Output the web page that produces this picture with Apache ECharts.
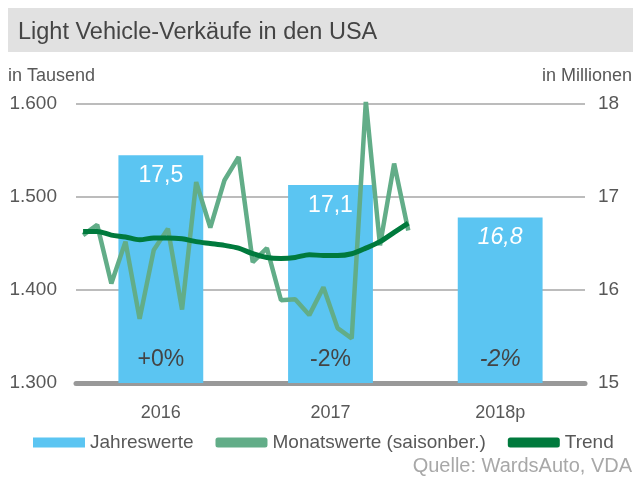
<!DOCTYPE html>
<html>
<head>
<meta charset="utf-8">
<script src="https://cdn.jsdelivr.net/npm/echarts@6/dist/echarts.min.js"></script>
<style>
  html, body { margin: 0; padding: 0; background: #fff; }
  #main { width: 635px; height: 480px; }
</style>
</head>
<body>
<div id="main"></div>
<script>
// Jahreswerte (Mio.), rechte Achse
var years = ['2016', '2017', '2018p'];
var yearValues = [17.45, 17.13, 16.78];
var yearLabels = ['17,5', '17,1', '16,8'];
var yearChange = ['+0%', '-2%', '-2%'];

// Monatswerte (Tsd.), Jan 2016 - Dez 2017, linke Achse
var months = [];
for (var y = 2016; y <= 2018; y++) {
  for (var m = 1; m <= 12; m++) months.push(y + '-' + m);
}
var monthly = [1459, 1470, 1407, 1452, 1369, 1443, 1466, 1379, 1516, 1467, 1518, 1543,
               1430, 1445, 1389, 1390, 1373, 1403, 1359, 1348, 1603, 1448, 1536, 1464];
var trend = [1463, 1463, 1459, 1457, 1454, 1456, 1456, 1455, 1452, 1450, 1448, 1445,
             1439, 1435, 1434, 1435, 1438, 1437, 1437, 1439, 1445, 1452, 1462, 1472];

var leftTicks = [1300, 1400, 1500, 1600];
var rightTicks = [15, 16, 17, 18];

var font = "'Liberation Sans', sans-serif";
var textGray = '#585858';

function deNum(v) {
  return String(v).replace(/\B(?=(\d{3})+$)/g, '.');
}

var myChart = echarts.init(document.getElementById('main'));
myChart.setOption({
  animation: false,
  textStyle: { fontFamily: font },
  grid: { left: 76, right: 50, top: 104, bottom: 97 },
  graphic: [
    { type: 'rect', shape: { x: 8, y: 8, width: 625, height: 44 }, style: { fill: '#E1E1E1' } },
    { type: 'text', left: 18, top: 21, style: { text: 'Light Vehicle-Verkäufe in den USA', fill: '#444', fontSize: 23.5, fontFamily: font } },
    { type: 'text', left: 8, top: 67, style: { text: 'in Tausend', fill: textGray, fontSize: 18, fontFamily: font } },
    { type: 'text', right: 3, top: 67, style: { text: 'in Millionen', fill: textGray, fontSize: 18, fontFamily: font } },
    { type: 'text', right: 3, top: 456, style: { text: 'Quelle: WardsAuto, VDA', fill: '#A8A8A8', fontSize: 20, fontFamily: font } }
  ],
  legend: {
    left: 28,
    top: 428,
    itemWidth: 52,
    itemHeight: 10,
    itemGap: 22,
    textStyle: { color: textGray, fontSize: 19, fontFamily: font },
    data: [
      { name: 'Jahreswerte', icon: 'rect' },
      { name: 'Monatswerte (saisonber.)', icon: 'roundRect' },
      { name: 'Trend', icon: 'roundRect' }
    ]
  },
  xAxis: [{
    type: 'category',
    data: years,
    axisLine: { show: true, lineStyle: { color: '#999', width: 5 } },
    axisTick: { show: false },
    axisLabel: { color: textGray, fontSize: 18, margin: 21, fontFamily: font }
  }, {
    type: 'category',
    data: months,
    show: false
  }],
  yAxis: [{
    type: 'value',
    min: 1300,
    max: 1600,
    interval: 100,
    axisLine: { show: false },
    axisTick: { show: false },
    axisLabel: {
      color: textGray, fontSize: 19, margin: 19, fontFamily: font,
      formatter: function (v) { return leftTicks.indexOf(v) >= 0 ? deNum(v) : ''; }
    },
    splitLine: { lineStyle: { color: '#A6A6A6', width: 1.5 } }
  }, {
    type: 'value',
    min: 15,
    max: 18,
    interval: 1,
    position: 'right',
    axisLine: { show: false },
    axisTick: { show: false },
    axisLabel: {
      color: textGray, fontSize: 19, margin: 13, fontFamily: font,
      formatter: function (v) { return rightTicks.indexOf(v) >= 0 ? String(v) : ''; }
    },
    splitLine: { show: false }
  }],
  series: [{
    name: 'Jahreswerte',
    type: 'bar',
    xAxisIndex: 0,
    yAxisIndex: 1,
    barWidth: '50%',
    itemStyle: { color: '#5BC5F2' },
    label: {
      show: true,
      position: 'insideTop',
      distance: 9,
      color: '#fff',
      fontSize: 23,
      fontFamily: font,
      formatter: function (p) { return yearLabels[p.dataIndex]; }
    },
    data: yearValues.map(function (v, i) {
      return { value: v, label: { fontStyle: i === 2 ? 'italic' : 'normal' } };
    })
  }, {
    name: 'Veränderung',
    type: 'bar',
    xAxisIndex: 0,
    yAxisIndex: 1,
    barWidth: '50%',
    barGap: '-100%',
    itemStyle: { color: 'rgba(0,0,0,0)' },
    label: {
      show: true,
      position: 'insideBottom',
      distance: 12,
      color: '#444',
      fontSize: 23,
      fontFamily: font,
      formatter: function (p) { return yearChange[p.dataIndex]; }
    },
    data: yearValues.map(function (v, i) {
      return { value: v, label: { fontStyle: i === 2 ? 'italic' : 'normal' } };
    }),
    silent: true
  }, {
    name: 'Monatswerte (saisonber.)',
    type: 'line',
    xAxisIndex: 1,
    yAxisIndex: 0,
    symbol: 'none',
    lineStyle: { color: '#62AD88', width: 4.5 },
    itemStyle: { color: '#62AD88' },
    data: monthly
  }, {
    name: 'Trend',
    type: 'line',
    xAxisIndex: 1,
    yAxisIndex: 0,
    symbol: 'none',
    smooth: 0.3,
    lineStyle: { color: '#007A3D', width: 5 },
    itemStyle: { color: '#007A3D' },
    data: trend
  }]
});
</script>
</body>
</html>
